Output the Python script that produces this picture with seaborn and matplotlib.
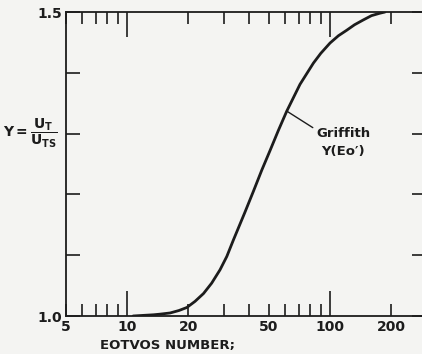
import matplotlib
matplotlib.use("Agg")
import matplotlib.pyplot as plt
import seaborn as sns
import pandas as pd

# Griffith wall-effect curve: velocity ratio Y against Eotvos number
eotvos = [10.7, 12.0, 13.5, 14.5, 16.3, 18.0, 19.7, 21.6, 23.8, 26.1, 28.7, 31.0, 33.4,
          38.0, 41.9, 46.1, 50.6, 55.6, 61.2, 71.1, 82.8, 90.0, 100.0, 110.0, 120.8,
          132.0, 145.9, 160.0, 176.0, 186.6]
y_ratio = [1.000, 1.001, 1.002, 1.003, 1.005, 1.009, 1.014, 1.024, 1.037, 1.054, 1.076, 1.098, 1.125,
           1.170, 1.205, 1.240, 1.272, 1.305, 1.337, 1.381, 1.416, 1.432, 1.449, 1.461, 1.470,
           1.479, 1.487, 1.494, 1.498, 1.500]

x_major = [10, 100]
x_minor = [5, 6, 7, 8, 9, 20, 30, 40, 50, 60, 70, 80, 90, 200]
x_minor_labels = ["5", "", "", "", "", "20", "", "", "50", "", "", "", "", "200"]
y_ticks = [1.0, 1.1, 1.2, 1.3, 1.4, 1.5]
y_tick_labels = ["1.0", "", "", "", "", "1.5"]

df = pd.DataFrame({"Eo": eotvos, "Y": y_ratio})

sns.set_theme(style="ticks")
plt.rcParams["font.family"] = ["DejaVu Sans"]
plt.rcParams["mathtext.fontset"] = "dejavusans"

ink = "#1c1c1c"
paper = "#f4f4f2"

fig = plt.figure(figsize=(4.22, 3.54), dpi=100, facecolor=paper)
ax = fig.add_axes([66 / 422, 38 / 354, 360 / 422, 304 / 354])
ax.set_facecolor(paper)

sns.lineplot(data=df, x="Eo", y="Y", ax=ax, color=ink, linewidth=2.0, sort=True)

ax.set_xscale("log")
ax.set_xlim(5, 297)
ax.set_ylim(1.0, 1.5)

ax.set_xticks(x_major, ["10", "100"])
ax.set_xticks(x_minor, x_minor_labels, minor=True)
ax.set_yticks(y_ticks, y_tick_labels)
ax.yaxis.set_minor_locator(matplotlib.ticker.NullLocator())

for side in ["left", "right", "top", "bottom"]:
    ax.spines[side].set_visible(True)
    ax.spines[side].set_color(ink)
    ax.spines[side].set_linewidth(1.3)

ax.tick_params(axis="x", which="major", direction="in", length=18, width=1.2,
               top=True, bottom=True, color=ink, labelcolor=ink, labelsize=10, pad=3)
ax.tick_params(axis="x", which="minor", direction="in", length=8.5, width=1.2,
               top=True, bottom=True, color=ink, labelcolor=ink, labelsize=10, pad=3)
ax.tick_params(axis="y", which="major", direction="in", length=10, width=1.2,
               left=True, right=True, color=ink, labelcolor=ink, labelsize=10, pad=3)
for lab in ax.get_xticklabels(which="both") + ax.get_yticklabels():
    lab.set_fontweight("bold")

ax.set_xlabel("")
ax.set_ylabel("")

fig.text(100 / 422, 1 - 345 / 354, "EOTVOS NUMBER;", fontsize=9.5, fontweight="bold",
         color=ink, ha="left", va="center")
fig.text(3 / 422, 1 - 133 / 354, r"$\mathbf{Y=\dfrac{U_T}{U_{TS}}}$", fontsize=10,
         color=ink, ha="left", va="center")

ax.annotate("Griffith\nY(Eo′)", xy=(61.2, 1.337), xytext=(116, 1.286),
            ha="center", va="center", fontsize=9.5, fontweight="bold", color=ink,
            linespacing=1.5,
            arrowprops=dict(arrowstyle="-", color=ink, lw=1.0, shrinkA=0, shrinkB=0,
                            relpos=(0.0, 0.9)))

fig.savefig("out.png", dpi=100, facecolor=paper)
